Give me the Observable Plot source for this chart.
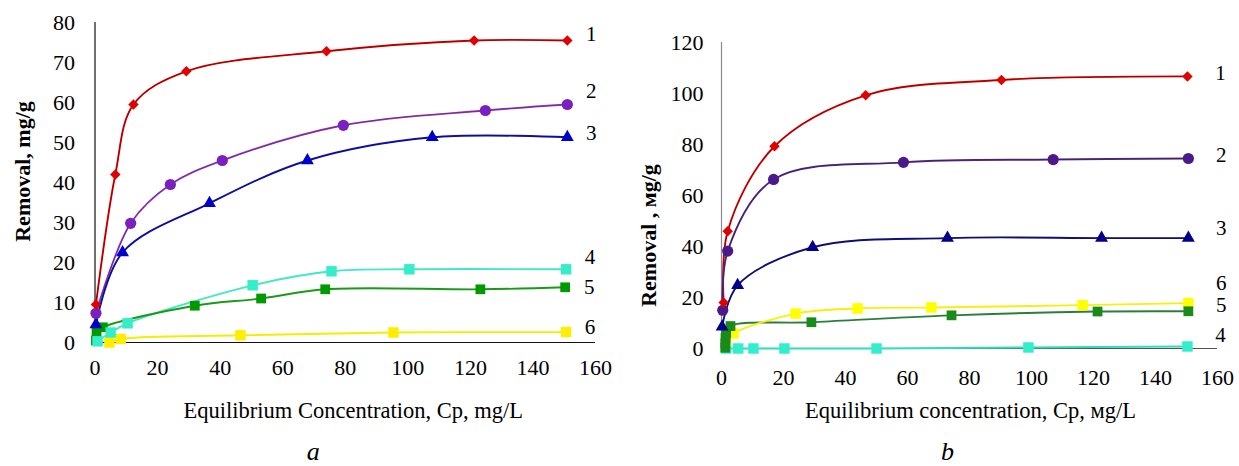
<!DOCTYPE html>
<html><head><meta charset="utf-8">
<script src="https://cdn.jsdelivr.net/npm/d3@7"></script>
<script src="https://cdn.jsdelivr.net/npm/@observablehq/plot@0.6"></script>
<style>
body{margin:0;background:#fff;width:1239px;height:466px;overflow:hidden;position:relative;font-family:"Liberation Serif",serif}
.pane{position:absolute;top:0}
#a{left:0}
#b{left:620px}
.pane svg, .pane svg text{font-family:"Liberation Serif","Times New Roman",serif !important}
</style></head><body>
<div id="a" class="pane"></div><div id="b" class="pane"></div>
<script>
// ---------- data ----------
const seriesNames = ["1","2","3","4","5","6"];
const ticksX  = [0,20,40,60,80,100,120,140,160];
const ticksYa = [0,10,20,30,40,50,60,70,80];
const ticksYb = [0,20,40,60,80,100,120];

// panel a
const a1x=[0.3,6.5,12.3,29.2,74,121.2,151],     a1y=[9.5,42,59.5,67.8,72.8,75.5,75.5];
const a2x=[0.3,11.4,24.1,40.7,79.4,124.8,151],  a2y=[7.3,29.8,39.5,45.5,54.3,58,59.5];
const a3x=[0.3,8.8,36.6,67.9,107.8,151],        a3y=[4.5,22.5,34.8,45.5,51.3,51.3];
const a4x=[0.8,5,10.4,50.4,75.6,100.5,150.6],   a4y=[0.3,2.5,4.8,14.3,17.8,18.3,18.3];
const a5x=[0.3,0.5,2.5,31.9,53.1,73.6,123.2,150.3], a5y=[0.5,2.5,3.8,9.2,11,13.3,13.3,13.8];
const a6x=[4.6,8.2,46.5,95.4,150.6],            a6y=[0,0.9,1.8,2.5,2.6];

// panel b
const b1x=[0.7,2,17.1,46.5,90.3,150.3],         b1y=[18,46,79.3,99.3,105.3,106.7];
const b2x=[0.4,2,16.8,58.7,107,150.6],          b2y=[15,38.2,66.3,73,74.1,74.5];
const b3x=[0.2,5.2,29.4,72.9,122.6,150.6],      b3y=[8.5,24.8,39.7,43.3,43.3,43.3];
const b4x=[1.5,5.4,10.3,20.3,50,99,150.3],      b4y=[0,0,0,0,0,0.4,0.8];
const b5x=[1.2,1.25,1.3,1.5,2.9,29,74.2,121.3,150.6], b5y=[0.3,2,4,6,8.8,10.3,13,14.5,14.6];
const b6x=[1.5,3.9,23.9,43.9,67.7,116.5,150.6], b6y=[3,5.9,13.7,15.7,16.1,17,17.8];

const titleYa = "Removal, mg/g";
const titleYb = "Removal , мg/g";
const titleXa = "Equilibrium Concentration, Cp, mg/L";
const titleXb = "Equilibrium concentration, Cp, мg/L";

// ---------- styles ----------
const FONT = '"Liberation Serif", "Times New Roman", serif';
const symbols = ["diamond2","circle","triangle","square","square","square"];
const radii   = [4.7,5.6,4.8,5.9,5.5,5.9];
const lineA = ["#e60000","#a040c8","#1414c0","#40e8c8","#1a9a1a","#f2ee00"];
const dotA  = ["#e00000","#7a1fc0","#0000cc","#33eec8","#009900","#ffee00"];
const lineB = ["#e60000","#5a3090","#141490","#30dcbc","#2a7f3a","#f5f010"];
const dotB  = ["#e00000","#4a1a8a","#00008b","#33eecc","#1a8a1a","#ffff00"];

const rows = (xs, ys) => xs.map((x, i) => ({x, y: ys[i]}));
const dataA = [rows(a1x,a1y),rows(a2x,a2y),rows(a3x,a3y),rows(a4x,a4y),rows(a5x,a5y),rows(a6x,a6y)];
const dataB = [rows(b1x,b1y),rows(b2x,b2y),rows(b3x,b3y),rows(b4x,b4y),rows(b5x,b5y),rows(b6x,b6y)];

function panel(cfg) {
  const marks = [];
  marks.push(Plot.ruleX([0], {stroke: cfg.yAxisColor, strokeWidth: 1.2}));
  marks.push(Plot.ruleY([0], {stroke: cfg.xAxisColor, strokeWidth: 1.2}));
  marks.push(Plot.axisX(ticksX, {tickSize: 0, tickPadding: cfg.xPad, label: null, fontSize: 22, fontFamily: FONT}));
  marks.push(Plot.axisY(cfg.ticksY, {tickSize: 0, tickPadding: cfg.yPad, label: null, fontSize: 22, fontFamily: FONT}));
  cfg.data.forEach((d, i) => {
    marks.push(Plot.line(d, {x: "x", y: "y", stroke: cfg.line[i], strokeWidth: 1.9, curve: "catmull-rom"}));
    if (i < 3) marks.push(Plot.line(d, {x: "x", y: "y", stroke: "#000", strokeOpacity: 0.45, strokeWidth: 0.7, curve: "catmull-rom"}));
  });
  cfg.order.forEach(i => {
    marks.push(Plot.dot(cfg.data[i], {x: "x", y: "y", symbol: symbols[i], r: radii[i], fill: cfg.dot[i], stroke: "none"}));
  });
  cfg.data.forEach((d, i) => {
    marks.push(Plot.text([d[d.length - 1]], {x: "x", y: "y", text: () => seriesNames[i], dx: cfg.labDx, dy: cfg.labDy[i], fontSize: 21, fontFamily: FONT, textAnchor: "middle"}));
  });
  marks.push(Plot.text([cfg.titleY], {frameAnchor: "left", text: d => d, rotate: -90, dx: cfg.tyDx, dy: cfg.tyDy, fontSize: 22, fontFamily: FONT, fontWeight: "bold", textAnchor: "middle", lineAnchor: "middle"}));
  marks.push(Plot.text([cfg.titleX], {frameAnchor: "bottom", text: d => d, dx: cfg.txDx, dy: cfg.txDy, fontSize: 22.5, fontFamily: FONT, textAnchor: "middle", lineAnchor: "middle"}));
  marks.push(Plot.text([cfg.caption], {frameAnchor: "bottom", text: d => d, dx: cfg.capDx, dy: cfg.capDy, fontSize: 26, fontFamily: FONT, fontStyle: "italic", textAnchor: "middle", lineAnchor: "bottom"}));
  return Plot.plot({
    width: cfg.width, height: 466,
    marginLeft: cfg.ml, marginRight: cfg.mr, marginTop: cfg.mt, marginBottom: cfg.mb,
    style: {fontFamily: FONT, fontSize: "21px", color: "#000", background: "#fff", overflow: "visible"},
    x: {domain: [0, 160]},
    y: {domain: cfg.domainY},
    marks
  });
}

document.getElementById("a").append(panel({
  width: 620, ml: 94.5, mr: 25, mt: 22, mb: 124,
  data: dataA, line: lineA, dot: dotA, ticksY: ticksYa, domainY: [0, 80],
  yAxisColor: "#111", xAxisColor: "#111", xPad: 17, yPad: 20,
  order: [5,4,3,2,1,0],
  labDx: 24, labDy: [-6,-13,-4,-12,0,-5],
  titleY: titleYa, tyDx: -72.5, tyDy: -11,
  titleX: titleXa, txDx: 8, txDy: 68,
  caption: "a", capDx: -32, capDy: 117
}));

document.getElementById("b").append(panel({
  width: 619, ml: 101, mr: 22, mt: 42, mb: 118,
  data: dataB, line: lineB, dot: dotB, ticksY: ticksYb, domainY: [0, 120],
  yAxisColor: "#8a8a8a", xAxisColor: "#555", xPad: 21, yPad: 18,
  order: [3,5,4,2,1,0],
  labDx: 33, labDy: [-3,-3,-10,-11,-6,-20],
  titleY: titleYb, tyDx: -73, tyDy: 40,
  titleX: titleXb, txDx: 1, txDy: 62,
  caption: "b", capDx: -22, capDy: 111
}));
</script>
</body></html>
